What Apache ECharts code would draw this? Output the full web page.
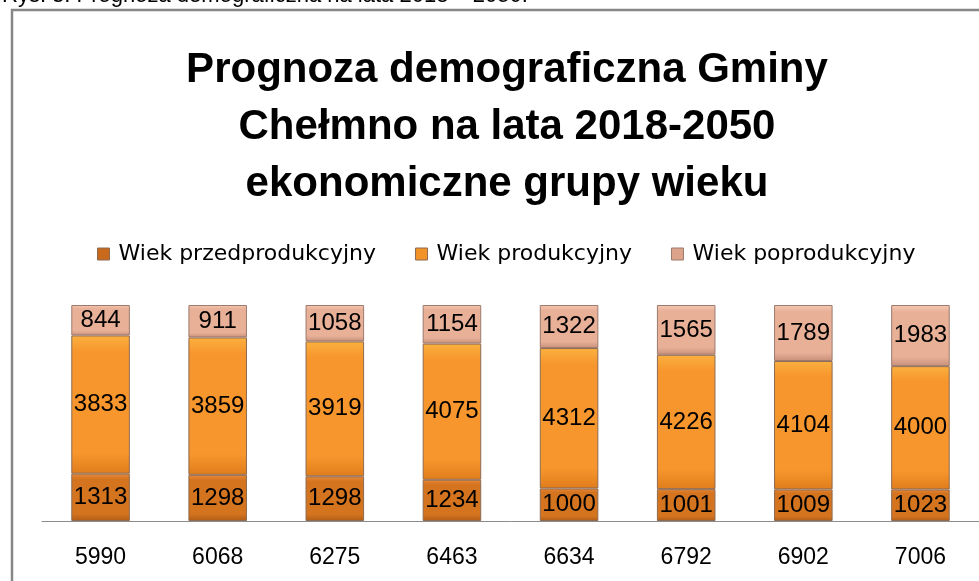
<!DOCTYPE html>
<html lang="pl" style="height: 100%">
<head>
    <meta charset="utf-8">
</head>
<body style="height: 100%; margin: 0; background: #fff">
<div id="container" style="width: 979px; height: 581px"></div>
<script type="text/javascript" src="https://fastly.jsdelivr.net/npm/echarts@6.0.0/dist/echarts.min.js"></script>
<script type="text/javascript">

    // category labels are the total population in each forecast year
    const totals = ['5990', '6068', '6275', '6463', '6634', '6792', '6902', '7006'];

    const seriesNames = ['Wiek przedprodukcyjny', 'Wiek produkcyjny', 'Wiek poprodukcyjny'];
    const preProductive = [1313, 1298, 1298, 1234, 1000, 1001, 1009, 1023];
    const productive = [3833, 3859, 3919, 4075, 4312, 4226, 4104, 4000];
    const postProductive = [844, 911, 1058, 1154, 1322, 1565, 1789, 1983];

    const raw = [preProductive, productive, postProductive];

    // 100% stacked: each bar is split by its share of the year's total
    function shares(values) {
        return values.map((v, i) => {
            const sum = preProductive[i] + productive[i] + postProductive[i];
            return +(v / sum * 100).toFixed(3);
        });
    }

    function bevel(top, mid, bottom) {
        return new echarts.graphic.LinearGradient(0, 0, 0, 1, [
            {offset: 0, color: top},
            {offset: 0.12, color: mid},
            {offset: 0.85, color: mid},
            {offset: 1, color: bottom}
        ]);
    }

    const fills = [
        bevel('#e9893a', '#d4741f', '#b05c16'),
        bevel('#fbb040', '#f7962c', '#e07d1c'),
        bevel('#f6c9b4', '#e8b097', '#c9907a')
    ];
    const legendFills = ['#c8691c', '#f39226', '#dca28a'];
    const borders = ['#8d6a52', '#8d6a52', '#9c7a6e'];

    var dom = document.getElementById('container');
    var myChart = echarts.init(dom, null, {renderer: 'canvas'});

    const option = {
        animation: false,
        backgroundColor: '#fff',
        textStyle: {fontFamily: 'Liberation Sans'},
        title: {
            text: 'Prognoza demograficzna Gminy\nChełmno na lata 2018-2050\nekonomiczne grupy wieku',
            left: 502,
            textAlign: 'center',
            top: 37,
            textStyle: {
                fontFamily: 'Liberation Sans',
                fontWeight: 'bold',
                fontSize: 42,
                lineHeight: 57,
                color: '#000'
            }
        },
        legend: {
            top: 238,
            left: 92,
            itemWidth: 12,
            itemHeight: 12,
            itemGap: 39,
            icon: 'rect',
            textStyle: {fontFamily: 'DejaVu Sans', fontSize: 22, color: '#000', padding: [0, 0, 0, 4]},
            data: seriesNames.map((n, i) => ({
                name: n,
                itemStyle: {color: legendFills[i], borderColor: borders[i], borderWidth: 1}
            }))
        },
        grid: {
            left: 42,
            right: 0,
            top: 305,
            bottom: 60
        },
        xAxis: {
            type: 'category',
            data: totals,
            axisLine: {lineStyle: {color: '#8c8c8c', width: 1}},
            axisTick: {show: false},
            axisLabel: {fontSize: 23, color: '#000', margin: 25}
        },
        yAxis: {
            type: 'value',
            min: 0,
            max: 100,
            show: false
        },
        graphic: [
            {
                type: 'text',
                left: 2,
                top: -15,
                style: {
                    text: 'Rys. 3. Prognoza demograficzna na lata 2018 – 2050.',
                    font: '22px "Liberation Sans"',
                    fill: '#000'
                }
            },
            {
                type: 'rect',
                shape: {x: 12, y: 10, width: 1000, height: 600},
                style: {fill: 'none', stroke: '#878787', lineWidth: 2.5},
                silent: true
            }
        ],
        series: raw.map((values, k) => ({
            name: seriesNames[k],
            type: 'bar',
            stack: 'total',
            barWidth: '50%',
            data: shares(values),
            itemStyle: {
                color: fills[k],
                borderColor: borders[k],
                borderWidth: 1
            },
            label: {
                show: true,
                position: 'inside',
                fontSize: 24,
                color: '#000',
                formatter: p => String(values[p.dataIndex])
            }
        }))
    };

    myChart.setOption(option);

</script>
</body>
</html>
